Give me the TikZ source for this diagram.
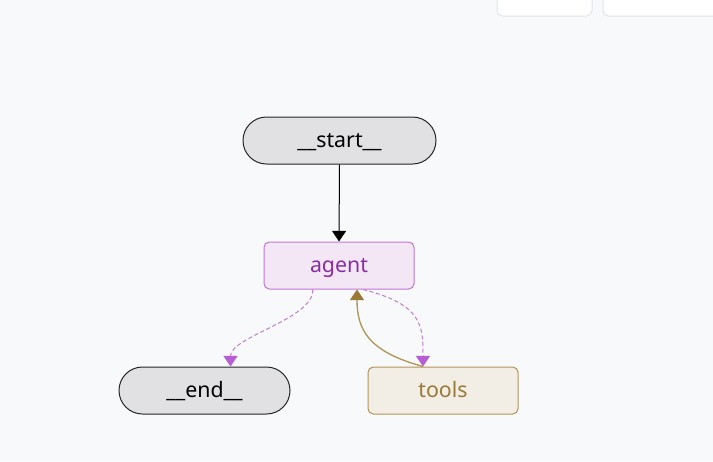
\documentclass[tikz,border=0pt]{standalone}
\usepackage{fontspec}
\setmainfont{Noto Sans}
\usetikzlibrary{arrows.meta,shapes.misc}
\definecolor{bg}{HTML}{F8F9FB}
\definecolor{termfill}{HTML}{E1E1E3}
\definecolor{agentfill}{HTML}{F3E7F6}
\definecolor{agentdraw}{HTML}{C276D8}
\definecolor{agenttext}{HTML}{8A2DA5}
\definecolor{toolfill}{HTML}{F2EEE5}
\definecolor{tooldraw}{HTML}{B39556}
\definecolor{tooltext}{HTML}{9A7836}
\definecolor{condline}{HTML}{C37ADA}
\definecolor{condtip}{HTML}{B55ED6}
\definecolor{uibox}{HTML}{E3E5E9}
\tikzset{
  x=0.75pt, y=-0.75pt,
  base/.style={minimum height=35.25pt, inner sep=0pt, text height=12.5pt, text depth=1.3pt, font=\fontsize{16}{19}\selectfont, line width=0.75pt},
  term/.style={base, rounded rectangle, fill=termfill, draw=black!85},
  agentbox/.style={base, rectangle, rounded corners=4pt, fill=agentfill, draw=agentdraw, text=agenttext, minimum width=112.5pt},
  toolbox/.style={base, rectangle, rounded corners=4pt, fill=toolfill, draw=tooldraw, text=tooltext, minimum width=112.5pt},
  plain/.style={draw=black, line width=0.75pt, -{Triangle[width=10.5pt,length=8pt]}},
  cond/.style={draw=condline, dash pattern=on 3pt off 2pt, line width=0.75pt, -{Triangle[width=10.5pt,length=8pt,color=condtip]}},
  back/.style={draw=tooldraw, line width=1pt, -{Triangle[width=10.5pt,length=8pt,color=tooltext]}},
  uib/.style={draw=uibox, fill=white, rounded corners=4pt, line width=0.75pt}
}
\begin{document}
\begin{tikzpicture}
\fill[bg] (0,0) rectangle (713,461);
\useasboundingbox (0,0) rectangle (713,461);
% partial UI buttons at top right
\draw[uib] (497,-10) rectangle (592,16);
\draw[uib] (603,-10) rectangle (730,16);

\node[term, minimum width=144.75pt] (start) at (339.5,140.5) {\_\_start\_\_};
\node[agentbox] (agent) at (339,265.5) {agent};
\node[term, minimum width=128.25pt] (end) at (204.5,390.5) {\_\_end\_\_};
\node[toolbox] (tools) at (443,390.5) {tools};

\draw[plain] (start.south) -- (agent.north);
\draw[cond] ([xshift=-19.5pt]agent.south) .. controls +(0,30) and +(0,-30) .. ([xshift=19.5pt]end.north);
\draw[cond] ([xshift=18pt]agent.south) .. controls +(60,15) and +(0,-40) .. ([xshift=-15pt]tools.north);
\draw[back] ([xshift=-15pt]tools.north) .. controls +(-55,-15) and +(0,40) .. ([xshift=13.5pt]agent.south);
\end{tikzpicture}
\end{document}
